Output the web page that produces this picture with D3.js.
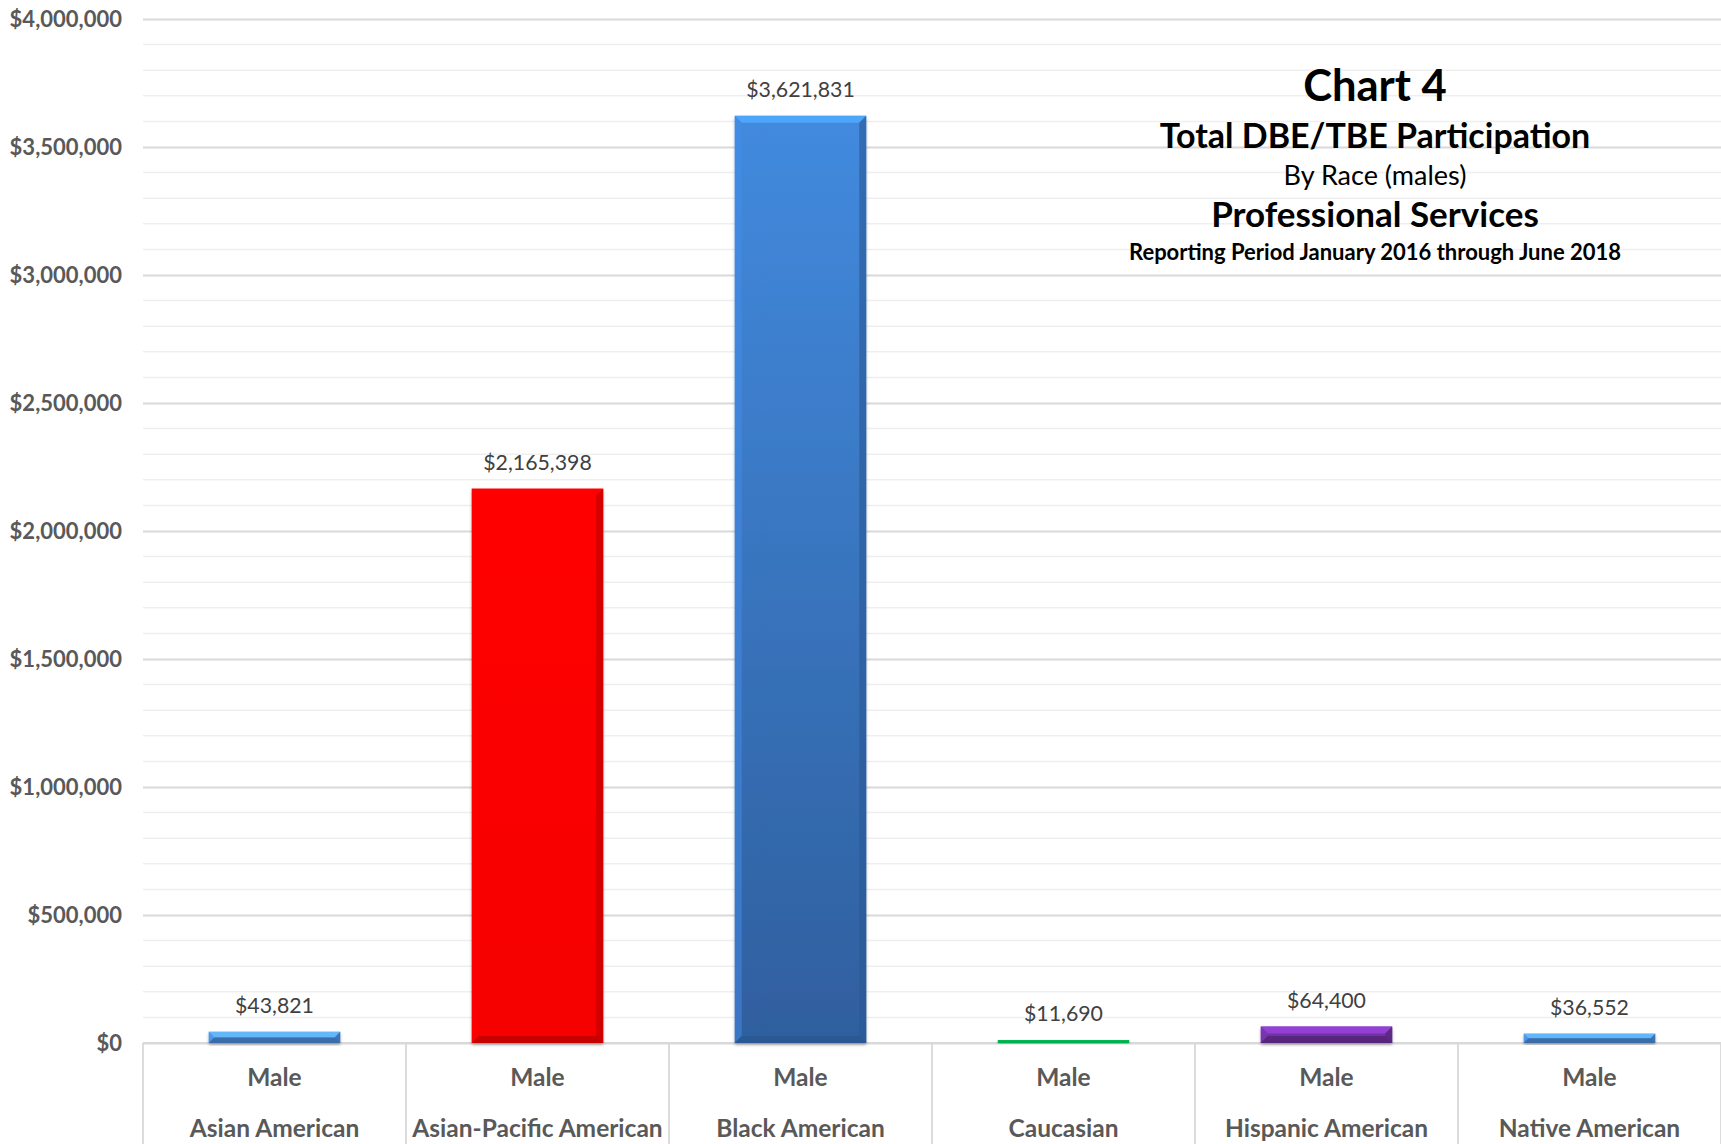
<!DOCTYPE html>
<html>
<head>
<meta charset="utf-8">
<script src="https://cdn.jsdelivr.net/npm/d3@7"></script>
<style>
  html, body { margin: 0; padding: 0; background: #fff; }
  svg { display: block; font-family: Lato, "Open Sans", sans-serif; }
</style>
</head>
<body>
<svg id="chart" width="1721" height="1144"></svg>
<script>
const races = ["Asian American", "Asian-Pacific American", "Black American", "Caucasian", "Hispanic American", "Native American"];
const genders = ["Male", "Male", "Male", "Male", "Male", "Male"];
const values = [43821, 2165398, 3621831, 11690, 64400, 36552];
const barColors = ["#4a8ad8", "#ff0000", "#3a7bcc", "#00b050", "#7030a0", "#4a8ad8"];
const yTicks = [0, 500000, 1000000, 1500000, 2000000, 2500000, 3000000, 3500000, 4000000];
const titleLines = ["Chart 4", "Total DBE/TBE Participation", "By Race (males)", "Professional Services", "Reporting Period January 2016 through June 2018"];

(function () {
const svg = d3.select("#chart");
const W = 1721, H = 1144;
const pL = 143, pR = 1721, pT = 19, pB = 1043;

const x = d3.scaleBand().domain(races).range([pL, pR]).paddingInner(0.5).paddingOuter(0.25);
const xOuter = d3.scaleBand().domain(races).range([pL, pR]).padding(0);
const y = d3.scaleLinear().domain([0, 4000000]).range([pB, pT]);

const fmt = d3.format("$,");

// minor gridlines
const minor = d3.range(0, 4000001, 100000).filter(v => v % 500000 !== 0);
svg.append("g").selectAll("line").data(minor).join("line")
  .attr("x1", pL).attr("x2", pR)
  .attr("y1", d => y(d)).attr("y2", d => y(d))
  .attr("stroke", "#efefef").attr("stroke-width", 1.5);

// major gridlines + axis
const yAxis = d3.axisLeft(y).tickValues(yTicks).tickFormat(fmt).tickSize(-(pR - pL)).tickPadding(21);
const gy = svg.append("g").attr("transform", `translate(${pL},0)`).call(yAxis);
gy.select(".domain").remove();
gy.selectAll(".tick line").attr("stroke", "#d9d9d9").attr("stroke-width", 1.8);
gy.selectAll(".tick text").attr("fill", "#595959").attr("font-size", 22).attr("font-weight", "bold")
  .attr("font-family", "Lato, sans-serif");

// category axis with dividers
const dividers = races.map(r => xOuter(r)).concat([pR]);
svg.append("g").selectAll("line").data(dividers).join("line")
  .attr("x1", d => d).attr("x2", d => d).attr("y1", pB).attr("y2", H)
  .attr("stroke", "#d9d9d9").attr("stroke-width", 1.8);
svg.append("line").attr("x1", pL).attr("x2", pR).attr("y1", pB).attr("y2", pB)
  .attr("stroke", "#d9d9d9").attr("stroke-width", 1.8);

const cat = svg.append("g");
cat.selectAll("text.g").data(races).join("text").attr("class", "g")
  .attr("x", d => x(d) + x.bandwidth() / 2).attr("y", 1077).attr("dy", "0.35em")
  .attr("text-anchor", "middle").attr("fill", "#595959").attr("font-size", 24.5).attr("font-weight", "bold")
  .text((d, i) => genders[i]);
cat.selectAll("text.r").data(races).join("text").attr("class", "r")
  .attr("x", d => x(d) + x.bandwidth() / 2).attr("y", 1128).attr("dy", "0.35em")
  .attr("text-anchor", "middle").attr("fill", "#595959").attr("font-size", 24.5).attr("font-weight", "bold")
  .text(d => d);

// gradients
const defs = svg.append("defs");
barColors.forEach((c, i) => {
  const g = defs.append("linearGradient").attr("id", "grad" + i).attr("x1", 0).attr("x2", 0).attr("y1", 0).attr("y2", 1);
  const base = d3.color(c);
  g.append("stop").attr("offset", "0%").attr("stop-color", i === 2 ? "#428ade" : base.brighter(0.15));
  g.append("stop").attr("offset", "100%").attr("stop-color", i === 2 ? "#2f5f9e" : base.darker(0.1));
});
const shadow = defs.append("filter").attr("id", "shadow").attr("x", "-10%").attr("y", "-10%").attr("width", "120%").attr("height", "130%");
shadow.append("feDropShadow").attr("dx", 0).attr("dy", 2).attr("stdDeviation", 1.5).attr("flood-color", "#000").attr("flood-opacity", 0.3);

// bars
const bars = svg.append("g");
races.forEach((r, i) => {
  const v = values[i];
  const x0 = x(r), w = x.bandwidth();
  const y0 = y(v), h = y(0) - y(v);
  const g = bars.append("g");
  const c = d3.color(barColors[i]);
  g.append("rect").attr("x", x0).attr("y", y0).attr("width", w).attr("height", Math.max(h, 1.5))
    .attr("fill", `url(#grad${i})`).attr("filter", "url(#shadow)");
  const b = Math.min(7, h / 2);
  if (h > 3) {
    g.append("path").attr("d", `M${x0},${y0} L${x0 + w},${y0} L${x0 + w - b},${y0 + b} L${x0 + b},${y0 + b} Z`)
      .attr("fill", c.brighter(0.9)).attr("opacity", 0.85);
    g.append("path").attr("d", `M${x0},${y0} L${x0 + b},${y0 + b} L${x0 + b},${y0 + h - b} L${x0},${y0 + h} Z`)
      .attr("fill", c.brighter(0.4)).attr("opacity", 0.5);
    g.append("path").attr("d", `M${x0 + w},${y0} L${x0 + w - b},${y0 + b} L${x0 + w - b},${y0 + h - b} L${x0 + w},${y0 + h} Z`)
      .attr("fill", c.darker(0.9)).attr("opacity", 0.6);
    g.append("path").attr("d", `M${x0},${y0 + h} L${x0 + b},${y0 + h - b} L${x0 + w - b},${y0 + h - b} L${x0 + w},${y0 + h} Z`)
      .attr("fill", c.darker(1.0)).attr("opacity", 0.7);
  }
  g.append("text").attr("x", x0 + w / 2).attr("y", y0 - 26).attr("dy", "0.35em")
    .attr("text-anchor", "middle").attr("fill", "#404040").attr("font-size", 21.3)
    .text(fmt(v));
});

// title
const tx = 1375;
const tspecs = [
  {y: 85.6, size: 43.5, weight: "bold"},
  {y: 136, size: 34, weight: "bold"},
  {y: 175.6, size: 27, weight: "normal"},
  {y: 215, size: 35, weight: "bold"},
  {y: 252.5, size: 22, weight: "bold"}
];
svg.append("g").selectAll("text").data(titleLines).join("text")
  .attr("x", tx).attr("y", (d, i) => tspecs[i].y).attr("dy", "0.35em")
  .attr("text-anchor", "middle").attr("fill", "#000")
  .attr("font-size", (d, i) => tspecs[i].size).attr("font-weight", (d, i) => tspecs[i].weight)
  .text(d => d);
})();
</script>
</body>
</html>
